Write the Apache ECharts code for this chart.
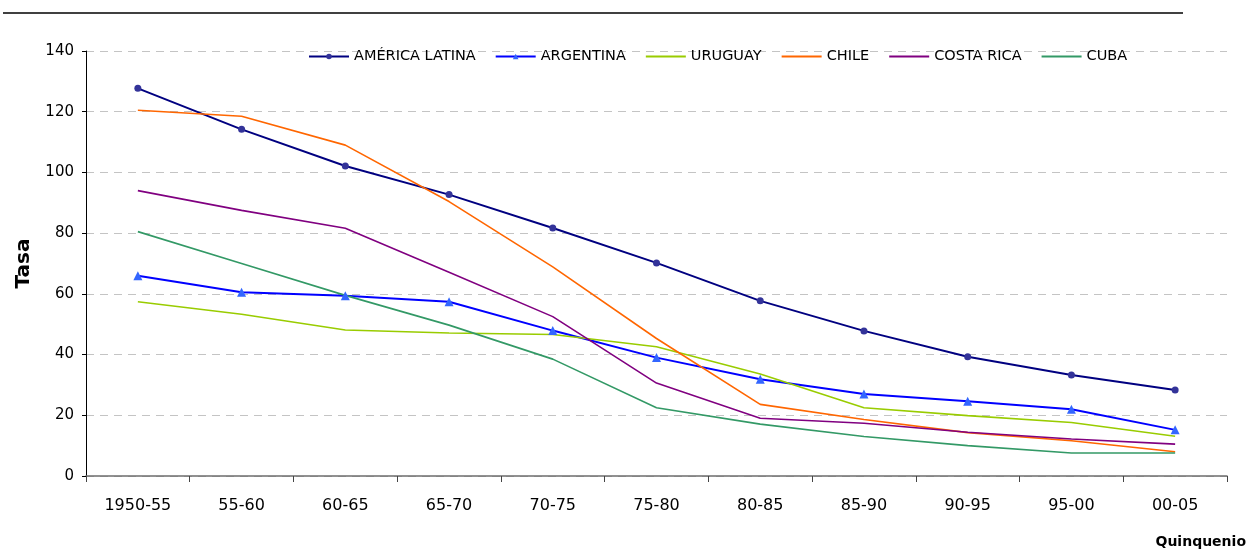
<!DOCTYPE html>
<html>
<head>
<meta charset="utf-8">
<title>Tasa por quinquenio</title>
<script src="https://cdn.jsdelivr.net/npm/echarts@6/dist/echarts.min.js"></script>
<style>
  html, body { margin: 0; padding: 0; background: #ffffff; }
  #chart { width: 1247px; height: 555px; }
</style>
</head>
<body>
<div id="chart"></div>
<script>
// Quinquenios del eje horizontal
const quinquenios = ['1950-55', '55-60', '60-65', '65-70', '70-75', '75-80', '80-85', '85-90', '90-95', '95-00', '00-05'];

// Tasas por país / región
const americaLatina = [127.7, 114.2, 102.1, 92.7, 81.7, 70.2, 57.7, 47.8, 39.3, 33.3, 28.3];
const argentina     = [66.0, 60.5, 59.4, 57.4, 47.9, 39.0, 31.9, 27.0, 24.6, 22.0, 15.2];
const uruguay       = [57.4, 53.3, 48.1, 47.1, 46.6, 42.6, 33.6, 22.5, 19.9, 17.6, 13.1];
const chile         = [120.5, 118.5, 109.0, 90.4, 68.9, 45.3, 23.6, 18.6, 14.3, 11.6, 8.0];
const costaRica     = [94.0, 87.5, 81.6, 67.1, 52.5, 30.6, 19.0, 17.4, 14.4, 12.2, 10.5];
const cuba          = [80.5, 70.0, 59.5, 49.7, 38.5, 22.5, 17.1, 13.0, 10.0, 7.6, 7.6];

// Marcas del eje vertical
const yMin = 0, yMax = 140, yStep = 20;

const FONT = '"DejaVu Sans", Verdana, sans-serif';

function plain(name, data, color) {
  return {
    name, type: 'line', data,
    symbol: 'none',
    lineStyle: { color, width: 1.6 },
    itemStyle: { color },
    emphasis: { disabled: true }
  };
}

const chart = echarts.init(document.getElementById('chart'), null, { renderer: 'canvas' });

chart.setOption({
  animation: false,
  backgroundColor: '#ffffff',
  textStyle: { fontFamily: FONT },
  grid: { left: 86, right: 20, top: 51, bottom: 79, containLabel: false },
  title: {
    text: 'Quinquenio',
    right: 1, top: 535, padding: 0,
    textStyle: { fontFamily: FONT, fontSize: 14, fontWeight: 'bold', color: '#000' }
  },
  legend: {
    left: 308, top: 49, padding: 0,
    itemWidth: 40, itemHeight: 7, itemGap: 19,
    textStyle: { fontFamily: FONT, fontSize: 14.5, color: '#000' },
    data: [
      { name: 'AMÉRICA LATINA' },
      { name: 'ARGENTINA' },
      { name: 'URUGUAY', itemStyle: { opacity: 0 } },
      { name: 'CHILE', itemStyle: { opacity: 0 } },
      { name: 'COSTA RICA', itemStyle: { opacity: 0 } },
      { name: 'CUBA', itemStyle: { opacity: 0 } }
    ]
  },
  xAxis: {
    type: 'category',
    data: quinquenios,
    boundaryGap: true,
    axisLine: { lineStyle: { color: '#6e6e6e', width: 1.5 } },
    axisTick: { show: true, alignWithLabel: false, length: 6, lineStyle: { color: '#444' } },
    axisLabel: { margin: 22, fontFamily: FONT, fontSize: 16, color: '#000' },
    splitLine: { show: false }
  },
  yAxis: {
    type: 'value',
    min: yMin, max: yMax, interval: yStep,
    name: 'Tasa',
    nameLocation: 'middle',
    nameRotate: 90,
    nameGap: 52,
    nameTextStyle: { fontFamily: FONT, fontSize: 20, fontWeight: 'bold', color: '#000' },
    axisLine: { show: true, lineStyle: { color: '#000', width: 1 } },
    axisTick: { show: true, inside: false, length: 4, lineStyle: { color: '#000' } },
    axisLabel: { margin: 12, fontFamily: FONT, fontSize: 15, color: '#000' },
    splitLine: { show: true, lineStyle: { color: '#c4c4c4', type: [8, 6], width: 1 } }
  },
  graphic: [
    {
      type: 'line',
      shape: { x1: 3, y1: 13, x2: 1183, y2: 13 },
      style: { stroke: '#000', lineWidth: 1.4 },
      silent: true
    }
  ],
  series: [
    {
      name: 'AMÉRICA LATINA', type: 'line', data: americaLatina,
      symbol: 'circle', symbolSize: 7, showSymbol: true,
      lineStyle: { color: '#000080', width: 2 },
      itemStyle: { color: '#333399' },
      emphasis: { disabled: true }
    },
    {
      name: 'ARGENTINA', type: 'line', data: argentina,
      symbol: 'triangle', symbolSize: 9, showSymbol: true,
      lineStyle: { color: '#0000ff', width: 2 },
      itemStyle: { color: '#3366ff' },
      emphasis: { disabled: true }
    },
    plain('URUGUAY', uruguay, '#99cc00'),
    plain('CHILE', chile, '#ff6600'),
    plain('COSTA RICA', costaRica, '#800080'),
    plain('CUBA', cuba, '#339966')
  ]
});
</script>
</body>
</html>
